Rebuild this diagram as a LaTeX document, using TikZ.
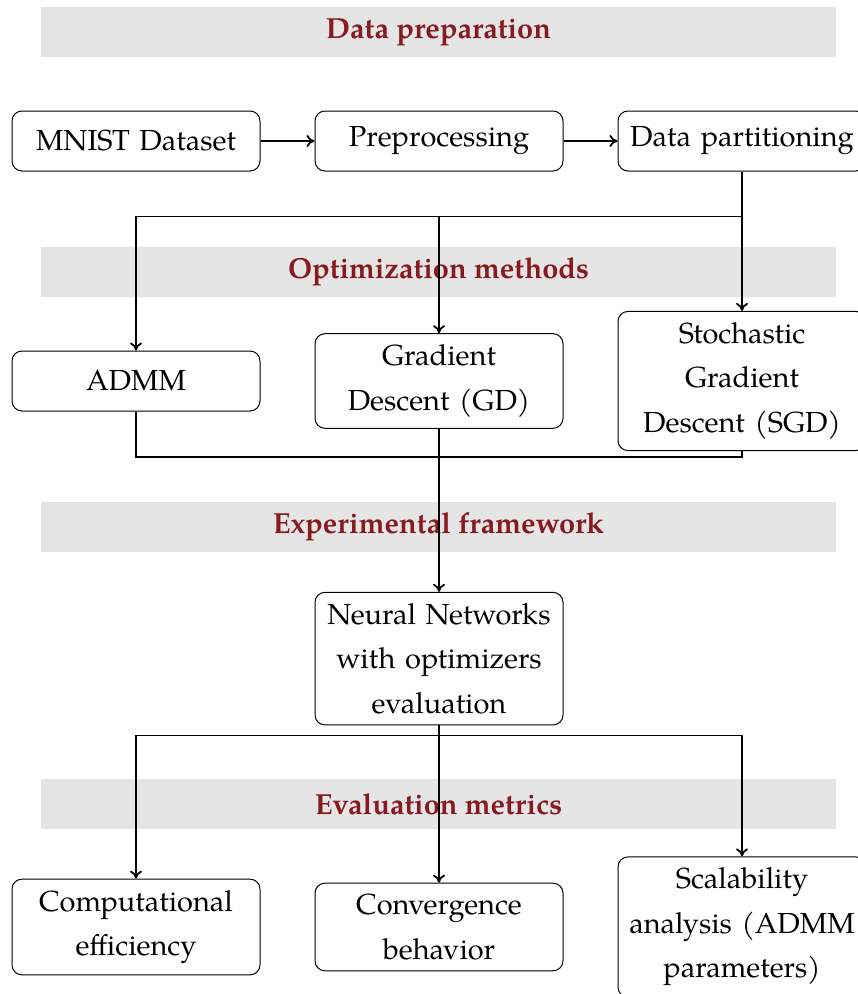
\documentclass[tikz,border=0pt]{standalone}
\usepackage{fontspec}
\setmainfont{TeX Gyre Pagella}
\usetikzlibrary{positioning,arrows.meta}
\definecolor{headred}{RGB}{134,26,30}
\begin{document}
\begin{tikzpicture}
[x=1pt,y=-1pt,>={To[length=8pt,width=12pt]},
box/.style={draw,rounded corners=10pt,line width=1pt,text width=226pt,inner sep=11pt,
  minimum height=60pt,align=center,font=\fontsize{29}{44.5}\selectfont},
band/.style={fill=gray!20,minimum width=795pt,minimum height=50pt,
  font=\fontsize{29}{34}\selectfont\bfseries,text=headred},
link/.style={line width=1.8pt},
arr/.style={link,->}]
	\useasboundingbox (0,0) rectangle (858,994);
	% section bands
	\node[band] (prepband) at (438.5,32) {Data preparation};
	\node[band] (optband) at (438.5,272) {Optimization methods};
	\node[band] (expband) at (438.5,527) {Experimental framework};
	\node[band] (evalband) at (438.5,804) {Evaluation metrics};
	% pipeline
	\node[box] (mnist) at (136,141) {MNIST Dataset};
	\node[box,right=54pt of mnist] (prep) {Preprocessing};
	\node[box,right=54pt of prep] (part) {Data partitioning};
	% optimizers
	\node[box] (admm) at (136,381) {ADMM};
	\node[box,right=54pt of admm] (gd) {Gradient Descent (GD)};
	\node[box,right=54pt of gd] (sgd) {Stochastic Gradient Descent (SGD)};
	% evaluation
	\node[box,below=163pt of gd] (nn) {Neural Networks with optimizers evaluation};
	\node[box] (comp) at (136,927) {Computational efficiency};
	\node[box,right=54pt of comp] (conv) {Convergence behavior};
	\node[box,right=54pt of conv] (scal) {Scalability analysis (ADMM parameters)};
	\coordinate[below=45pt of part] (split);
	\coordinate (merge) at (admm.south |- 0,457);
	\coordinate[below=10pt of nn] (fan);
	\draw[arr] (mnist) -- (prep);
	\draw[arr] (prep) -- (part);
	\draw[link] (part.south) -- (split);
	\draw[arr] (split) -| (admm.north);
	\draw[arr] (split) -| (gd.north);
	\draw[arr] (split) -- (sgd.north);
	\draw[link] (admm.south) -- (merge) -| (sgd.south);
	\draw[arr] (gd.south) -- (nn.north);
	\draw[link] (nn.south) -- (fan);
	\draw[arr] (fan) -| (comp.north);
	\draw[arr] (fan) -| (conv.north);
	\draw[arr] (fan) -| (scal.north);
\end{tikzpicture}
\end{document}
